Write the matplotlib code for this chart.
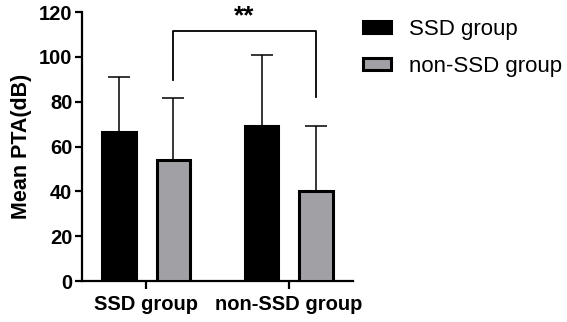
import numpy as np
import matplotlib.pyplot as plt

plt.rcParams['font.family'] = ['Liberation Sans', 'DejaVu Sans']

groups = ['SSD group', 'non-SSD group']
series = ['SSD group', 'non-SSD group']
means_ssd = [66.5, 69.2]
means_non = [54.0, 40.3]
sd_ssd = [24.5, 31.7]
sd_non = [27.6, 28.9]
yticks = [0, 20, 40, 60, 80, 100, 120]
sig_label = '**'
bracket = [(0, 1), 111.6, 89.7, 82.0]  # bars (non-SSD), top, left end, right end

fig = plt.figure(figsize=(5.67, 3.22), dpi=100)
ax = fig.add_axes([0.1446, 0.1273, 0.478, 0.8354])

x = np.arange(len(groups))
off = 0.19
w = 0.235
ekw = dict(ecolor='black', elinewidth=1.1, capsize=8, capthick=1.1)

ax.bar(x - off, means_ssd, w, color='black', edgecolor='black', linewidth=2.2,
       label=series[0], zorder=3)
ax.errorbar(x - off, means_ssd, yerr=[np.zeros(2), sd_ssd], fmt='none', zorder=2, **ekw)
ax.bar(x + off, means_non, w, color='#a1a1a5', edgecolor='black', linewidth=2.2,
       label=series[1], zorder=3)
ax.errorbar(x + off, means_non, yerr=[np.zeros(2), sd_non], fmt='none', zorder=2, **ekw)

# significance bracket between the two non-SSD bars
(i, j), top, yl, yr = bracket
xl, xr = x[i] + off, x[j] + off
ax.plot([xl, xl, xr, xr], [yl, top, top, yr], color='black', lw=1.3, clip_on=False)
ax.text((xl + xr) / 2, top + 1.2, sig_label, ha='center', va='bottom',
        fontsize=19, fontweight='bold')

ax.set_xlim(-0.45, 1.45)
ax.set_ylim(0, 120)
ax.set_yticks(yticks)
ax.set_xticks(x)
ax.set_xticklabels(groups, fontsize=14.5, fontweight='bold')
for lab in ax.get_yticklabels():
    lab.set_fontsize(14.5)
    lab.set_fontweight('bold')
ax.set_ylabel('Mean PTA(dB)', fontsize=15.5, fontweight='bold', labelpad=5)

for s in ['top', 'right']:
    ax.spines[s].set_visible(False)
for s in ['left', 'bottom']:
    ax.spines[s].set_linewidth(1.6)
ax.tick_params(axis='y', width=1.6, length=5, pad=2)
ax.tick_params(axis='x', width=1.6, length=6, pad=4)

leg = fig.legend(loc='upper left', bbox_to_anchor=(363 / 567, 1 - 19 / 322),
                 frameon=False, fontsize=16, handlelength=1.25, handleheight=0.5,
                 handletextpad=0.8, labelspacing=0.72, borderaxespad=0, borderpad=0)

fig.savefig('out.png', dpi=100)
